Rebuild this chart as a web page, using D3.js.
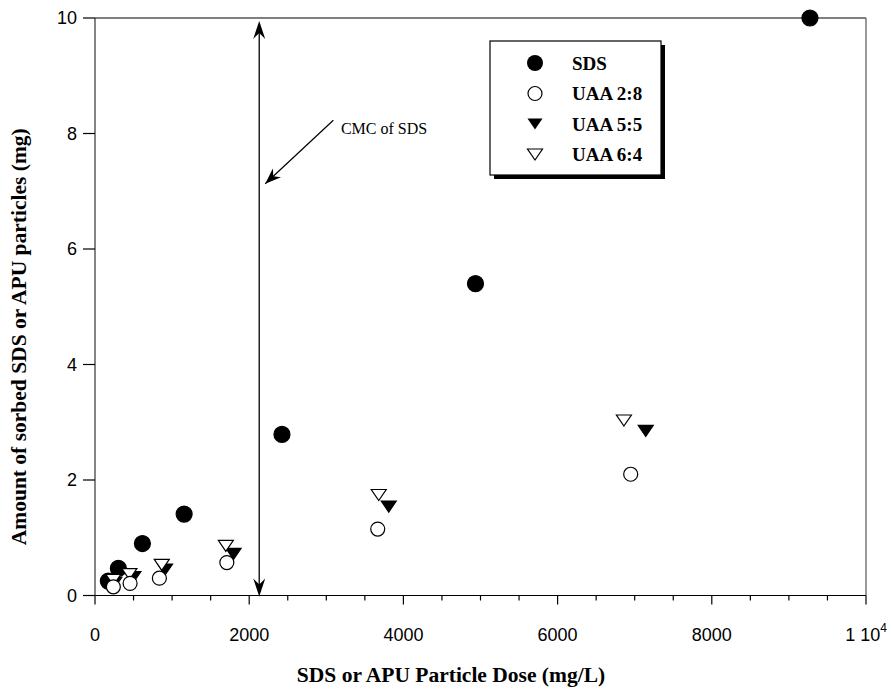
<!DOCTYPE html>
<html>
<head>
<meta charset="utf-8">
<script src="https://cdn.jsdelivr.net/npm/d3@7"></script>
<style>
  body { margin: 0; background: #fff; }
</style>
</head>
<body>
<div id="chart"></div>
<script>
// ---- data ----
const doseSDS = [173, 303, 615, 1156, 2425, 4935, 9273];
const sorbSDS = [0.25, 0.47, 0.90, 1.41, 2.79, 5.40, 10.0];
const dose28 = [238, 455, 835, 1710, 3667, 6948];
const sorb28 = [0.15, 0.21, 0.30, 0.57, 1.15, 2.10];
const dose55 = [250, 498, 909, 1797, 3810, 7143];
const sorb55 = [0.22, 0.32, 0.45, 0.72, 1.54, 2.85];
const dose64 = [238, 446, 866, 1697, 3680, 6860];
const sorb64 = [0.27, 0.37, 0.53, 0.86, 1.74, 3.03];
const seriesNames = ['SDS', 'UAA 2:8', 'UAA 5:5', 'UAA 6:4'];
const xTicks = [0, 2000, 4000, 6000, 8000, 10000];
const yTicks = [0, 2, 4, 6, 8, 10];
const cmcDose = 2130;

const W = 892, H = 690;
const margin = { top: 18, right: 26, bottom: 94.5, left: 95 };
const width = W - margin.left - margin.right;
const height = H - margin.top - margin.bottom;

const svg = d3.select('#chart').append('svg')
    .attr('width', W)
    .attr('height', H);

const g = svg.append('g')
    .attr('transform', `translate(${margin.left},${margin.top})`);

const x = d3.scaleLinear().domain([0, 10000]).range([0, width]);
const y = d3.scaleLinear().domain([0, 10]).range([height, 0]);

const sans = 'Liberation Sans, Arial, sans-serif';
const serif = 'Liberation Serif, Times New Roman, serif';

// frame (top and right)
g.append('line').attr('x1', 0).attr('x2', width).attr('y1', 0).attr('y2', 0)
    .attr('stroke', '#000').attr('stroke-width', 1.2);
g.append('line').attr('x1', width).attr('x2', width).attr('y1', 0).attr('y2', height)
    .attr('stroke', '#555').attr('stroke-width', 1.2);

// x axis: major and minor ticks
const xAxis = g.append('g').attr('transform', `translate(0,${height})`);
xAxis.append('line').attr('x1', -12).attr('x2', width).attr('y1', 0).attr('y2', 0)
    .attr('stroke', '#000').attr('stroke-width', 1.2);
d3.range(0, 10001, 500).forEach(v => {
    const major = v % 2000 === 0;
    xAxis.append('line')
        .attr('x1', x(v)).attr('x2', x(v))
        .attr('y1', 0).attr('y2', major ? 9 : 5)
        .attr('stroke', '#000').attr('stroke-width', 1.2);
});
xTicks.forEach(v => {
    const t = xAxis.append('text')
        .attr('x', x(v)).attr('y', 45)
        .attr('text-anchor', 'middle')
        .style('font-family', sans).style('font-size', '18px');
    if (v === 10000) {
        t.text('1 10');
        t.append('tspan').attr('dy', -9).style('font-size', '12px').text('4');
    } else {
        t.text(v);
    }
});

// y axis
const yAxis = g.append('g');
yAxis.append('line').attr('x1', 0).attr('x2', 0).attr('y1', 0).attr('y2', height)
    .attr('stroke', '#333').attr('stroke-width', 1.2);
yTicks.forEach(v => {
    yAxis.append('line').attr('x1', -12).attr('x2', 0).attr('y1', y(v)).attr('y2', y(v))
        .attr('stroke', '#000').attr('stroke-width', 1.2);
    yAxis.append('text')
        .attr('x', -18).attr('y', y(v)).attr('dy', '0.35em')
        .attr('text-anchor', 'end')
        .style('font-family', sans).style('font-size', '18px')
        .text(v);
});

// axis titles
svg.append('text')
    .attr('x', 451).attr('y', 682)
    .attr('text-anchor', 'middle')
    .style('font-family', serif).style('font-size', '21.5px').style('font-weight', 'bold')
    .text('SDS or APU Particle Dose (mg/L)');
svg.append('text')
    .attr('transform', `translate(26,${margin.top + height / 2 + 30}) rotate(-90)`)
    .attr('text-anchor', 'middle')
    .style('font-family', serif).style('font-size', '21.5px').style('font-weight', 'bold')
    .text('Amount of sorbed SDS or APU particles (mg)');

// ---- CMC line with arrowheads ----
const headDown = 'M0,0 L-6,-18 L0,-12 L6,-18 Z';
const cx = x(cmcDose);
g.append('line').attr('x1', cx).attr('x2', cx)
    .attr('y1', y(9.95) + 4).attr('y2', y(0) - 4)
    .attr('stroke', '#000').attr('stroke-width', 1.3);
g.append('path').attr('d', headDown)
    .attr('transform', `translate(${cx},${y(0) + 1})`).attr('fill', '#000');
g.append('path').attr('d', headDown)
    .attr('transform', `translate(${cx},${y(9.95)}) rotate(180)`).attr('fill', '#000');

// pointer arrow and label
const p0 = [x(3091), y(8.23)], p1 = [x(2208), y(7.13)];
g.append('line').attr('x1', p0[0]).attr('y1', p0[1]).attr('x2', p1[0]).attr('y2', p1[1])
    .attr('stroke', '#000').attr('stroke-width', 1.2);
const ang = Math.atan2(p1[1] - p0[1], p1[0] - p0[0]) * 180 / Math.PI;
g.append('path').attr('d', 'M0,0 L-16,-6 L-11,0 L-16,6 Z')
    .attr('transform', `translate(${p1[0]},${p1[1]}) rotate(${ang})`)
    .attr('fill', '#000');
g.append('text')
    .attr('x', x(3190)).attr('y', y(8.0))
    .style('font-family', serif).style('font-size', '16px')
    .text('CMC of SDS');

// ---- markers ----
const tri = 'M-7.5,-5.5 L7.5,-5.5 L0,5.5 Z';
function drawCircles(xs, ys, r, fill) {
    g.append('g').selectAll('circle').data(xs).join('circle')
        .attr('cx', d => x(d)).attr('cy', (d, i) => y(ys[i]))
        .attr('r', r).attr('fill', fill)
        .attr('stroke', '#000').attr('stroke-width', 1.2);
}
function drawTris(xs, ys, fill) {
    g.append('g').selectAll('path').data(xs).join('path')
        .attr('d', tri)
        .attr('transform', (d, i) => `translate(${x(d)},${y(ys[i])})`)
        .attr('fill', fill)
        .attr('stroke', '#000').attr('stroke-width', 1.2);
}
drawCircles(doseSDS, sorbSDS, 8, '#000');
drawTris(dose55, sorb55, '#000');
drawTris(dose64, sorb64, '#fff');
drawCircles(dose28, sorb28, 7, '#fff');

// ---- legend ----
const lg = svg.append('g').attr('transform', 'translate(490,41)');
lg.append('rect').attr('x', 4).attr('y', 4).attr('width', 171).attr('height', 134).attr('fill', '#000');
lg.append('rect').attr('width', 171).attr('height', 134)
    .attr('fill', '#fff').attr('stroke', '#000').attr('stroke-width', 1.2);
seriesNames.forEach((name, i) => {
    const row = lg.append('g').attr('transform', `translate(45,${22 + i * 30.5})`);
    if (i === 0) row.append('circle').attr('r', 8).attr('fill', '#000');
    if (i === 1) row.append('circle').attr('r', 7).attr('fill', '#fff').attr('stroke', '#000').attr('stroke-width', 1.2);
    if (i === 2) row.append('path').attr('d', tri).attr('fill', '#000');
    if (i === 3) row.append('path').attr('d', tri).attr('fill', '#fff').attr('stroke', '#000').attr('stroke-width', 1.2);
    row.append('text').attr('x', 37).attr('dy', '0.35em')
        .style('font-family', serif).style('font-size', '19px').style('font-weight', 'bold')
        .text(name);
});
</script>
</body>
</html>
